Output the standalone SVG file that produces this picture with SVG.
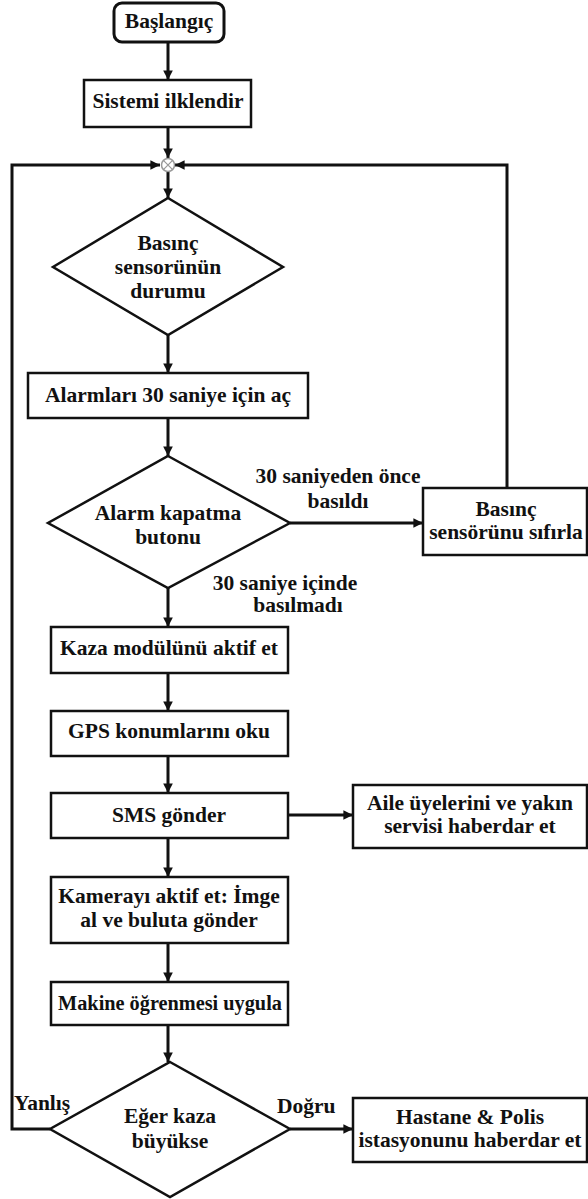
<svg xmlns="http://www.w3.org/2000/svg" width="588" height="1199" viewBox="0 0 588 1199" font-family="Liberation Serif, DejaVu Serif, serif">
  <style>
    .box { fill: #fff; stroke: #111; stroke-width: 2.5; }
    .term { fill: #fff; stroke: #111; stroke-width: 3; }
    .dia { fill: #fff; stroke: #111; stroke-width: 2.5; }
    text { font-family: "Liberation Serif", "DejaVu Serif", serif; font-weight: bold; fill: #111; }
    .t { font-size: 21.5px; text-anchor: middle; }
    .lbl { font-size: 21.5px; }
    .ln { fill: none; stroke: #111; stroke-width: 3; }
  </style>
  <defs>
    <marker id="arr" viewBox="0 0 10 10" refX="10" refY="5" markerWidth="3.2" markerHeight="3.2" orient="auto" markerUnits="strokeWidth">
      <path d="M0,0 L10,5 L0,10 z" fill="#111"/>
    </marker>
  </defs>
  <rect width="588" height="1199" fill="#fff"/>

  <!-- connectors -->
  <g id="connectors">
    <line class="ln" x1="168" y1="42" x2="168" y2="80" marker-end="url(#arr)"/>
    <line class="ln" x1="168" y1="127" x2="168" y2="158" marker-end="url(#arr)"/>
    <line class="ln" x1="168" y1="172" x2="168" y2="198" marker-end="url(#arr)"/>
    <line class="ln" x1="168" y1="335" x2="168" y2="373" marker-end="url(#arr)"/>
    <line class="ln" x1="168" y1="418" x2="168" y2="456" marker-end="url(#arr)"/>
    <line class="ln" x1="168" y1="588" x2="168" y2="627" marker-end="url(#arr)"/>
    <line class="ln" x1="168" y1="673" x2="168" y2="711" marker-end="url(#arr)"/>
    <line class="ln" x1="168" y1="756" x2="168" y2="793" marker-end="url(#arr)"/>
    <line class="ln" x1="168" y1="838" x2="168" y2="877" marker-end="url(#arr)"/>
    <line class="ln" x1="168" y1="943" x2="168" y2="982" marker-end="url(#arr)"/>
    <line class="ln" x1="168" y1="1025" x2="168" y2="1062" marker-end="url(#arr)"/>
    <line class="ln" x1="290" y1="523" x2="423" y2="523" marker-end="url(#arr)"/>
    <polyline class="ln" points="507,488 507,165 175,165" marker-end="url(#arr)"/>
    <polyline class="ln" points="50,1129 12,1129 12,165 160,165" marker-end="url(#arr)"/>
    <line class="ln" x1="288" y1="815" x2="353" y2="815" marker-end="url(#arr)"/>
    <line class="ln" x1="290" y1="1129" x2="353" y2="1129" marker-end="url(#arr)"/>
    <!-- merge point -->
    <g id="junction">
      <circle cx="168" cy="165" r="6.5" fill="#fff" stroke="#999" stroke-width="1.5"/>
      <path d="M163.4,160.4 L172.6,169.6 M172.6,160.4 L163.4,169.6" stroke="#999" stroke-width="1.2"/>
    </g>
    <text class="lbl" x="338" y="483" text-anchor="middle">30 saniyeden önce</text>
    <text class="lbl" x="338" y="508" text-anchor="middle">basıldı</text>
    <text class="lbl" x="285" y="590" text-anchor="middle">30 saniye içinde</text>
    <text class="lbl" x="298" y="612" text-anchor="middle">basılmadı</text>
    <text class="lbl" x="14" y="1110">Yanlış</text>
    <text class="lbl" x="277" y="1113">Doğru</text>
  </g>

  <g id="start">
    <rect class="term" x="114" y="3" width="110" height="39" rx="8"/>
    <text class="t" x="169" y="28">Başlangıç</text>
  </g>
  <g id="init">
    <rect class="box" x="84" y="80" width="167" height="47"/>
    <text class="t" x="168" y="108">Sistemi ilklendir</text>
  </g>
  <g id="pressure">
    <polygon class="dia" points="168,198 283,267 168,335 53,267"/>
    <text class="t" x="168" y="250">Basınç</text>
    <text class="t" x="168" y="274">sensorünün</text>
    <text class="t" x="168" y="298">durumu</text>
  </g>
  <g id="alarm">
    <rect class="box" x="28" y="373" width="280" height="45"/>
    <text class="t" x="168" y="402">Alarmları 30 saniye için aç</text>
  </g>
  <g id="button">
    <polygon class="dia" points="168,456 290,523 168,588 48,523"/>
    <text class="t" x="168" y="520">Alarm kapatma</text>
    <text class="t" x="168" y="544">butonu</text>
  </g>
  <g id="reset">
    <rect class="box" x="423" y="488" width="164" height="67"/>
    <text class="t" x="506" y="516">Basınç</text>
    <text class="t" x="506" y="539">sensörünu sıfırla</text>
  </g>
  <g id="crash">
    <rect class="box" x="51" y="627" width="237" height="46"/>
    <text class="t" x="169" y="655">Kaza modülünü aktif et</text>
  </g>
  <g id="gps">
    <rect class="box" x="51" y="711" width="237" height="45"/>
    <text class="t" x="169" y="738">GPS konumlarını oku</text>
  </g>
  <g id="sms">
    <rect class="box" x="51" y="793" width="237" height="45"/>
    <text class="t" x="169" y="822">SMS gönder</text>
  </g>
  <g id="family">
    <rect class="box" x="353" y="785" width="234" height="63"/>
    <text class="t" x="470" y="810">Aile üyelerini ve yakın</text>
    <text class="t" x="470" y="833">servisi haberdar et</text>
  </g>
  <g id="camera">
    <rect class="box" x="51" y="877" width="237" height="66"/>
    <text class="t" x="169" y="903">Kamerayı aktif et: İmge</text>
    <text class="t" x="169" y="927">al ve buluta gönder</text>
  </g>
  <g id="ml">
    <rect class="box" x="51" y="982" width="237" height="43"/>
    <text class="t" x="170" y="1010" style="font-size:20.3px">Makine öğrenmesi uygula</text>
  </g>
  <g id="severity">
    <polygon class="dia" points="170,1062 290,1129 170,1197 50,1129"/>
    <text class="t" x="170" y="1123">Eğer kaza</text>
    <text class="t" x="170" y="1148">büyükse</text>
  </g>
  <g id="notify">
    <rect class="box" x="353" y="1098" width="234" height="64"/>
    <text class="t" x="470" y="1124">Hastane &amp; Polis</text>
    <text class="t" x="470" y="1147">istasyonunu haberdar et</text>
  </g>
</svg>
